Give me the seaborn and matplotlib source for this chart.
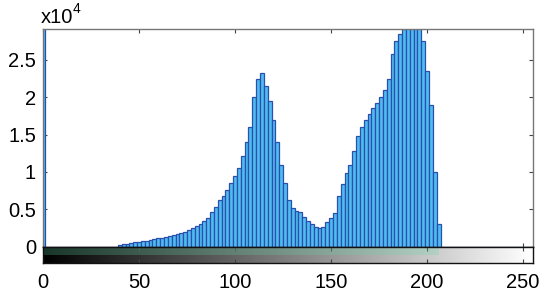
import numpy as np
import pandas as pd
import matplotlib
matplotlib.use("Agg")
import matplotlib.pyplot as plt
import seaborn as sns
from matplotlib.ticker import FuncFormatter

# gray levels (bin centers, step 2) and counts
levels = list(range(0, 256, 2))
counts_1e4 = {
    0: 4.0,
    40: 0.02, 42: 0.03, 44: 0.04, 46: 0.05, 48: 0.06, 50: 0.065, 52: 0.07,
    54: 0.08, 56: 0.09, 58: 0.10, 60: 0.11, 62: 0.12, 64: 0.13, 66: 0.14,
    68: 0.15, 70: 0.17, 72: 0.18, 74: 0.20, 76: 0.22, 78: 0.25, 80: 0.28,
    82: 0.31, 84: 0.35, 86: 0.39, 88: 0.46, 90: 0.53, 92: 0.62, 94: 0.68,
    96: 0.76, 98: 0.85, 100: 0.95, 102: 1.05, 104: 1.22, 106: 1.40,
    108: 1.60, 110: 2.00, 112: 2.25, 114: 2.33, 116: 2.15, 118: 1.95,
    120: 1.70, 122: 1.40, 124: 1.10, 126: 0.85, 128: 0.62, 130: 0.52,
    132: 0.48, 134: 0.46, 136: 0.40, 138: 0.34, 140: 0.30, 142: 0.27,
    144: 0.25, 146: 0.26, 148: 0.33, 150: 0.38, 152: 0.45, 154: 0.68,
    156: 0.84, 158: 0.98, 160: 1.10, 162: 1.28, 164: 1.48, 166: 1.60,
    168: 1.70, 170: 1.78, 172: 1.85, 174: 1.93, 176: 2.00, 178: 2.10,
    180: 2.25, 182: 2.58, 184: 2.76, 186: 2.85, 188: 2.92, 190: 3.00,
    192: 3.05, 194: 3.02, 196: 2.98, 198: 2.75, 200: 2.35, 202: 1.90,
    204: 1.00, 206: 0.30,
}
counts = [counts_1e4.get(l, 0.0) * 1e4 for l in levels]

xticks = [0, 50, 100, 150, 200, 250]
yticks = [0, 5000, 10000, 15000, 20000, 25000]

df = pd.DataFrame({"level": levels, "count": counts})

sns.set_style("white")
plt.rcParams["font.family"] = ["Liberation Sans", "DejaVu Sans"]
plt.rcParams["text.color"] = "black"
plt.rcParams["xtick.labelcolor"] = "black"
plt.rcParams["ytick.labelcolor"] = "black"

W, H = 550, 298
fig = plt.figure(figsize=(W / 100, H / 100), dpi=100)

L, R = 43, 532.7
T, B0 = 29.3, 246.7
CB = 263.3
ax = fig.add_axes([L / W, (H - B0) / H, (R - L) / W, (B0 - T) / H])
cax = fig.add_axes([L / W, (H - CB) / H, (R - L) / W, (CB - B0) / H])

sns.histplot(data=df, x="level", weights="count", binwidth=2, binrange=(-1, 257),
             color="#4fbcef", edgecolor="#2b4fae", linewidth=0.9, alpha=1.0, ax=ax)

ax.set_xlim(0, 255)
ax.set_ylim(0, 29100)
ax.set_xticks(xticks)
ax.set_xticklabels([])
ax.set_yticks(yticks)
ax.yaxis.set_major_formatter(FuncFormatter(lambda v, p: f"{v/1e4:g}"))
ax.set_xlabel("")
ax.set_ylabel("")
ax.tick_params(axis="y", direction="in", left=True, right=True, length=3,
               width=0.8, color="#444444", labelsize=14.5, pad=5,
               labelcolor="black")
ax.tick_params(axis="x", direction="in", top=True, bottom=True, length=3,
               width=0.8, color="#444444", labelbottom=False)
for s in ax.spines.values():
    s.set_color("#777777")
    s.set_linewidth(1.0)
ax.spines["bottom"].set_color("#222222")

# gray colorbar strip
grad = np.linspace(0, 1, 256).reshape(1, -1)
cax.imshow(grad, cmap="gray", aspect="auto", extent=[0, 255, 0, 1], vmin=0, vmax=1)
cax.fill_between([0, 206], 0.5, 1.0, color="#60d8a8", alpha=0.25, linewidth=0)
cax.set_xlim(0, 255)
cax.set_ylim(0, 1)
cax.set_yticks([])
cax.set_xticks(xticks)
cax.set_xticklabels([str(t) for t in xticks])
cax.tick_params(axis="x", direction="in", top=True, bottom=True, length=3,
                width=0.8, color="#444444", labelsize=14.5, pad=7,
                labelcolor="black")
for s in cax.spines.values():
    s.set_color("#111111")
    s.set_linewidth(1.0)

# exponent label
fig.text(41 / W, (H - 23) / H, "x10", fontsize=14.5, ha="left", va="baseline",
         color="black")
fig.text(73 / W, (H - 13) / H, "4", fontsize=10, ha="left", va="baseline",
         color="black")

fig.savefig("out.png", dpi=100)
